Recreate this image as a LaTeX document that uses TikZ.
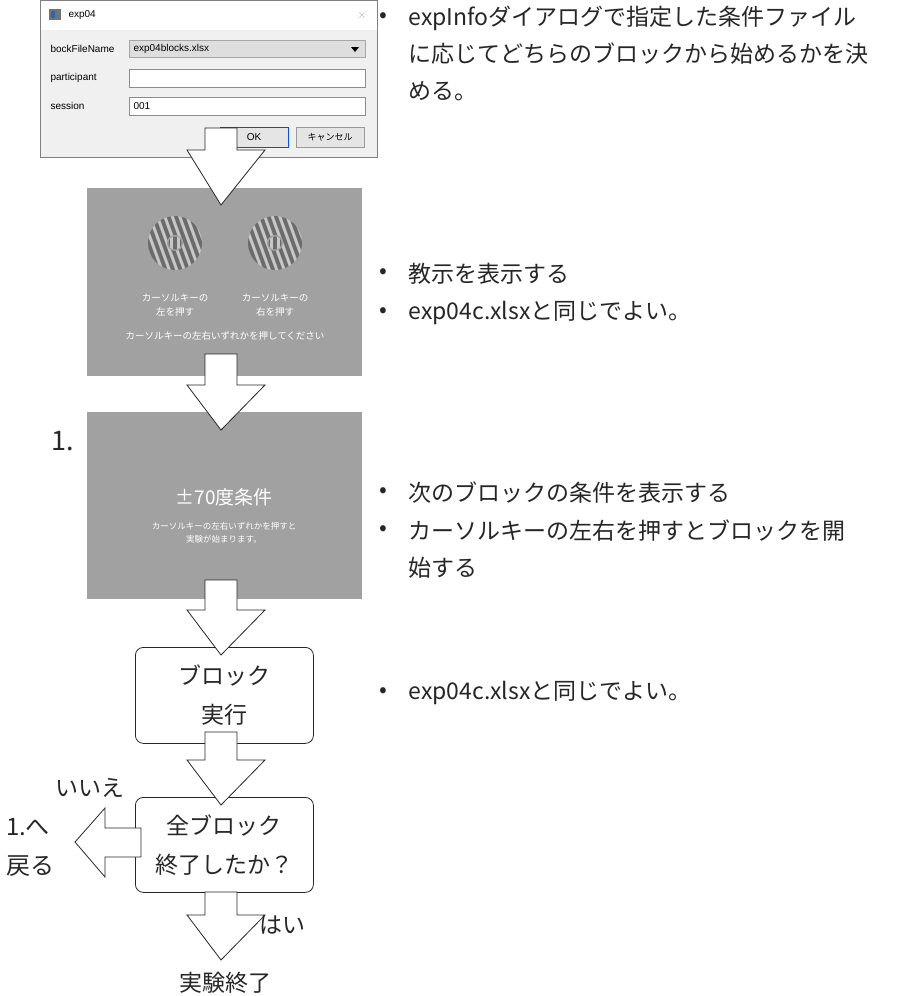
\documentclass[tikz,border=0pt]{standalone}
\usepackage{fontspec}
\setmainfont{Noto Sans CJK JP}
\newfontfamily\dlg{Liberation Sans}
\begin{document}
\begin{tikzpicture}[x=1pt,y=-1pt,
 barrow/.style={draw=black!85,fill=white,line width=0.8pt,line join=miter},
 panel/.style={fill=black!37,draw=none},
 rbox/.style={draw=black!85,fill=white,rounded corners=8pt,line width=0.8pt},
 field/.style={draw=black!45,fill=white,line width=0.5pt},
 big/.style={font=\fontsize{23}{37}\selectfont,text=black!85},
 dt/.style={font=\dlg\fontsize{10}{11}\selectfont,anchor=west},
 wtxt/.style={text=white!92,font=\fontsize{9.5}{14}\selectfont,align=center}]
\useasboundingbox (0,0) rectangle (921,996);
% dialog
\node[draw=black!50,fill=black!6,minimum width=337,minimum height=157,inner sep=0,anchor=north west] (dlg) at (40,0) {};
\fill[white] (40.5,0.5) rectangle (376.5,30);
\fill[black!55] (49,9) rectangle (61,20); \fill[cyan!50!blue] (51,11) rectangle (55,18);
\node[dt] (ttl) at (65,15) {exp04};
\node[font=\fontsize{12}{12}\selectfont,text=black!35] (cls) at (362,15) {$\times$};
\node[dt] (l1) at (47,49) {bockFileName};
\node[dt] (l2) at (47,78) {participant};
\node[dt] (l3) at (47,106) {session};
\node[draw=black!35,fill=black!13,minimum width=236,minimum height=17,inner sep=0,anchor=west] (f1) at (129,49) {};
\node[dt] (f1t) at (130,49) {exp04blocks.xlsx};
\fill[black] (351,47) -- (359,47) -- (355,52) -- cycle;
\node[field,minimum width=236,minimum height=18,inner sep=0,anchor=west] (f2) at (129,78) {};
\node[field,minimum width=236,minimum height=18,inner sep=0,anchor=west] (f3) at (129,106) {};
\node[dt] (f3t) at (130,106) {001};
\node[draw=blue!70!cyan,fill=black!10,minimum width=68,minimum height=20,inner sep=0] (ok) at (254,137) {};
\node[dt,anchor=center] (okt) at (254,137) {OK};
\node[draw=black!40,fill=black!10,minimum width=68,minimum height=20,inner sep=0] (cn) at (330,137) {};
\node[font=\fontsize{9}{10}\selectfont] (cnt) at (330,137) {キャンセル};
% panels
\node[panel,minimum width=275,minimum height=188,inner sep=0,anchor=north west] (p1) at (87,188) {};
\node[panel,minimum width=275,minimum height=187,inner sep=0,anchor=north west] (p2) at (87,412) {};
\foreach \cx in {175,275}{
 \begin{scope}
 \clip (\cx,243) circle (27);
 \foreach \i in {-60,-53,...,60}{
  \draw[line width=3.5pt,black!58,rotate around={20:(\cx,243)}] (\cx+\i,200) -- (\cx+\i,290);
  \draw[line width=2.5pt,black!22,rotate around={20:(\cx,243)}] (\cx+\i+3.5,200) -- (\cx+\i+3.5,290);}
 \end{scope}
 \fill[black!37] (\cx,243) circle (8);
 \begin{scope}
 \clip (\cx,243) circle (6.5);
 \foreach \i in {-7,0,7}{
  \draw[line width=3.5pt,black!58] (\cx+\i,230) -- (\cx+\i,256);
  \draw[line width=2.5pt,black!22] (\cx+\i+3.5,230) -- (\cx+\i+3.5,256);}
 \end{scope}
}
\node[wtxt] (t1) at (175,305) {カーソルキーの\\左を押す};
\node[wtxt] (t2) at (275,305) {カーソルキーの\\右を押す};
\node[wtxt] (t3) at (225,336) {カーソルキーの左右いずれかを押してください};
\node[text=white,font=\fontsize{19}{20}\selectfont] (c1) at (224,497) {±70度条件};
\node[wtxt,font=\fontsize{8.5}{13}\selectfont] (c2) at (224,533) {カーソルキーの左右いずれかを押すと\\実験が始まります。};
\node[big,font=\fontsize{27}{28}\selectfont] (one) at (63,441) {1.};
% boxes
\node[rbox,minimum width=178,minimum height=96,inner sep=0,anchor=north west] (b1) at (135,647) {};
\node[big,align=center,font=\fontsize{23}{39}\selectfont] at (b1.center) {ブロック\\実行};
\node[rbox,minimum width=178,minimum height=95,inner sep=0,anchor=north west] (b2) at (135,797) {};
\node[big,align=center,font=\fontsize{23}{39}\selectfont] at (b2.center) {全ブロック\\終了したか？};
% block arrows
\foreach \ya/\yb/\yc in {128/150/205, 354/385/430, 580/610/655, 732/760/805, 892/915/960}{
 \draw[barrow] (205,\ya) -- (237,\ya) -- (237,\yb) -- (265,\yb) -- (221,\yc) -- (187,\yb) -- (205,\yb) -- cycle;
}
\draw[barrow] (141,828) -- (105,828) -- (105,808) -- (75,842) -- (105,877) -- (105,857) -- (141,857) -- cycle;
\node[big] (no) at (90,788) {いいえ};
\node[big,align=left,font=\fontsize{24}{39}\selectfont] (back) at (30,847) {1.へ\\戻る};
\node[big] (yes) at (282,925) {はい};
\node[big] (end) at (225,983) {実験終了};
% bullets
\begin{scope}[every node/.style={big,anchor=west}]
\node (d1) at (376,18) {•}; \node (r1a) at (405,18) {expInfoダイアログで指定した条件ファイル};
\node (r1b) at (405,54) {に応じてどちらのブロックから始めるかを決}; \node (r1c) at (405,91) {める。};
\node (d2) at (376,274) {•}; \node (r2) at (405,274) {教示を表示する};
\node (d3) at (376,313) {•}; \node (r3) at (405,313) {exp04c.xlsxと同じでよい。};
\node (d4) at (376,493) {•}; \node (r4) at (405,493) {次のブロックの条件を表示する};
\node (d5) at (376,531) {•}; \node (r5) at (405,531) {カーソルキーの左右を押すとブロックを開};
\node (r5b) at (405,568) {始する};
\node (d6) at (376,693) {•}; \node (r6) at (405,693) {exp04c.xlsxと同じでよい。};
\end{scope}
\end{tikzpicture}
\end{document}
